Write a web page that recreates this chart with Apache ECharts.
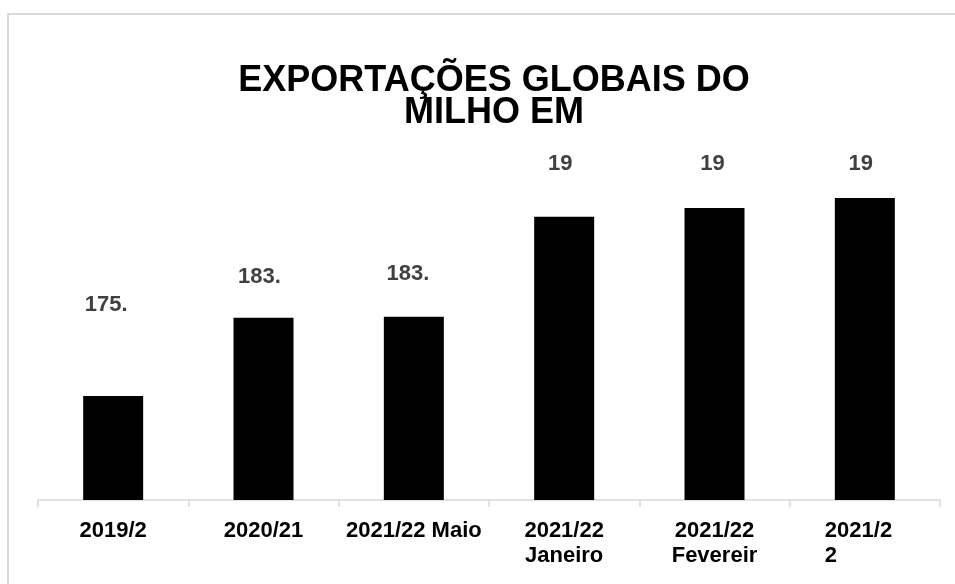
<!DOCTYPE html>
<html>
<head>
<meta charset="utf-8">
<script src="https://cdn.jsdelivr.net/npm/echarts@6/dist/echarts.min.js"></script>
<style>
  html, body { margin: 0; padding: 0; background: #ffffff; }
  #chart { width: 955px; height: 584px; }
</style>
</head>
<body>
<div id="chart"></div>
<script>
// ---- data ----
var titleText = 'EXPORTAÇÕES GLOBAIS DO\nMILHO EM';
var categories = ['2019/2', '2020/21', '2021/22 Maio', '2021/22\nJaneiro', '2021/22\nFevereir', '2021/2\n2'];
var values = [175.5, 183.4, 183.5, 193.6, 194.5, 195.5];
var valueLabels = ['175.', '183.', '183.', '19', '19', '19'];

// ---- layout (label nudges, as in the source chart) ----
var labelOffsets = [[-7, -80], [-4, -30], [-6, -32], [-4, -42], [-2, -33], [-4, -23]];

var FONT = '"Liberation Sans", Arial, sans-serif';

var seriesData = values.map(function (v, i) {
  return {
    value: v,
    label: { offset: labelOffsets[i], formatter: valueLabels[i] }
  };
});

var chart = echarts.init(document.getElementById('chart'), null, { renderer: 'canvas' });
chart.setOption({
  backgroundColor: '#ffffff',
  animation: false,
  graphic: [{
    type: 'rect',
    shape: { x: 8, y: 14, width: 1200, height: 1200 },
    style: { fill: 'none', stroke: '#d9d9d9', lineWidth: 2 },
    silent: true,
    z: -1
  }],
  title: {
    text: titleText,
    left: 489,
    textAlign: 'center',
    top: 60,
    textStyle: {
      fontFamily: FONT,
      fontWeight: 'bold',
      fontSize: 36,
      lineHeight: 32,
      color: '#000000'
    }
  },
  grid: { left: 38, right: 15, top: 153.5, bottom: 84, containLabel: false },
  xAxis: {
    type: 'category',
    data: categories,
    axisLine: { show: true, lineStyle: { color: '#d9d9d9', width: 1.5 } },
    axisTick: { show: true, length: 7, lineStyle: { color: '#d9d9d9', width: 1.5 } },
    axisLabel: {
      interval: 0,
      margin: 18,
      fontFamily: FONT,
      fontWeight: 'bold',
      fontSize: 22,
      lineHeight: 25,
      color: '#000000',
      formatter: function (v, idx) {
        if (idx === categories.length - 1) {
          return '{l|' + v.split('\n').join('}\n{l|') + '}';
        }
        return v;
      },
      rich: {
        l: { width: 80, align: 'left', fontFamily: FONT, fontWeight: 'bold', fontSize: 22, lineHeight: 25, color: '#000000' }
      }
    }
  },
  yAxis: {
    type: 'value',
    min: 165,
    max: 200,
    show: false,
    splitLine: { show: false }
  },
  series: [{
    type: 'bar',
    data: seriesData,
    barWidth: 60,
    itemStyle: { color: '#000000' },
    label: {
      show: true,
      position: 'top',
      distance: 0,
      fontFamily: FONT,
      fontWeight: 'bold',
      fontSize: 22,
      lineHeight: 22,
      color: '#404040'
    }
  }]
});
</script>
</body>
</html>
